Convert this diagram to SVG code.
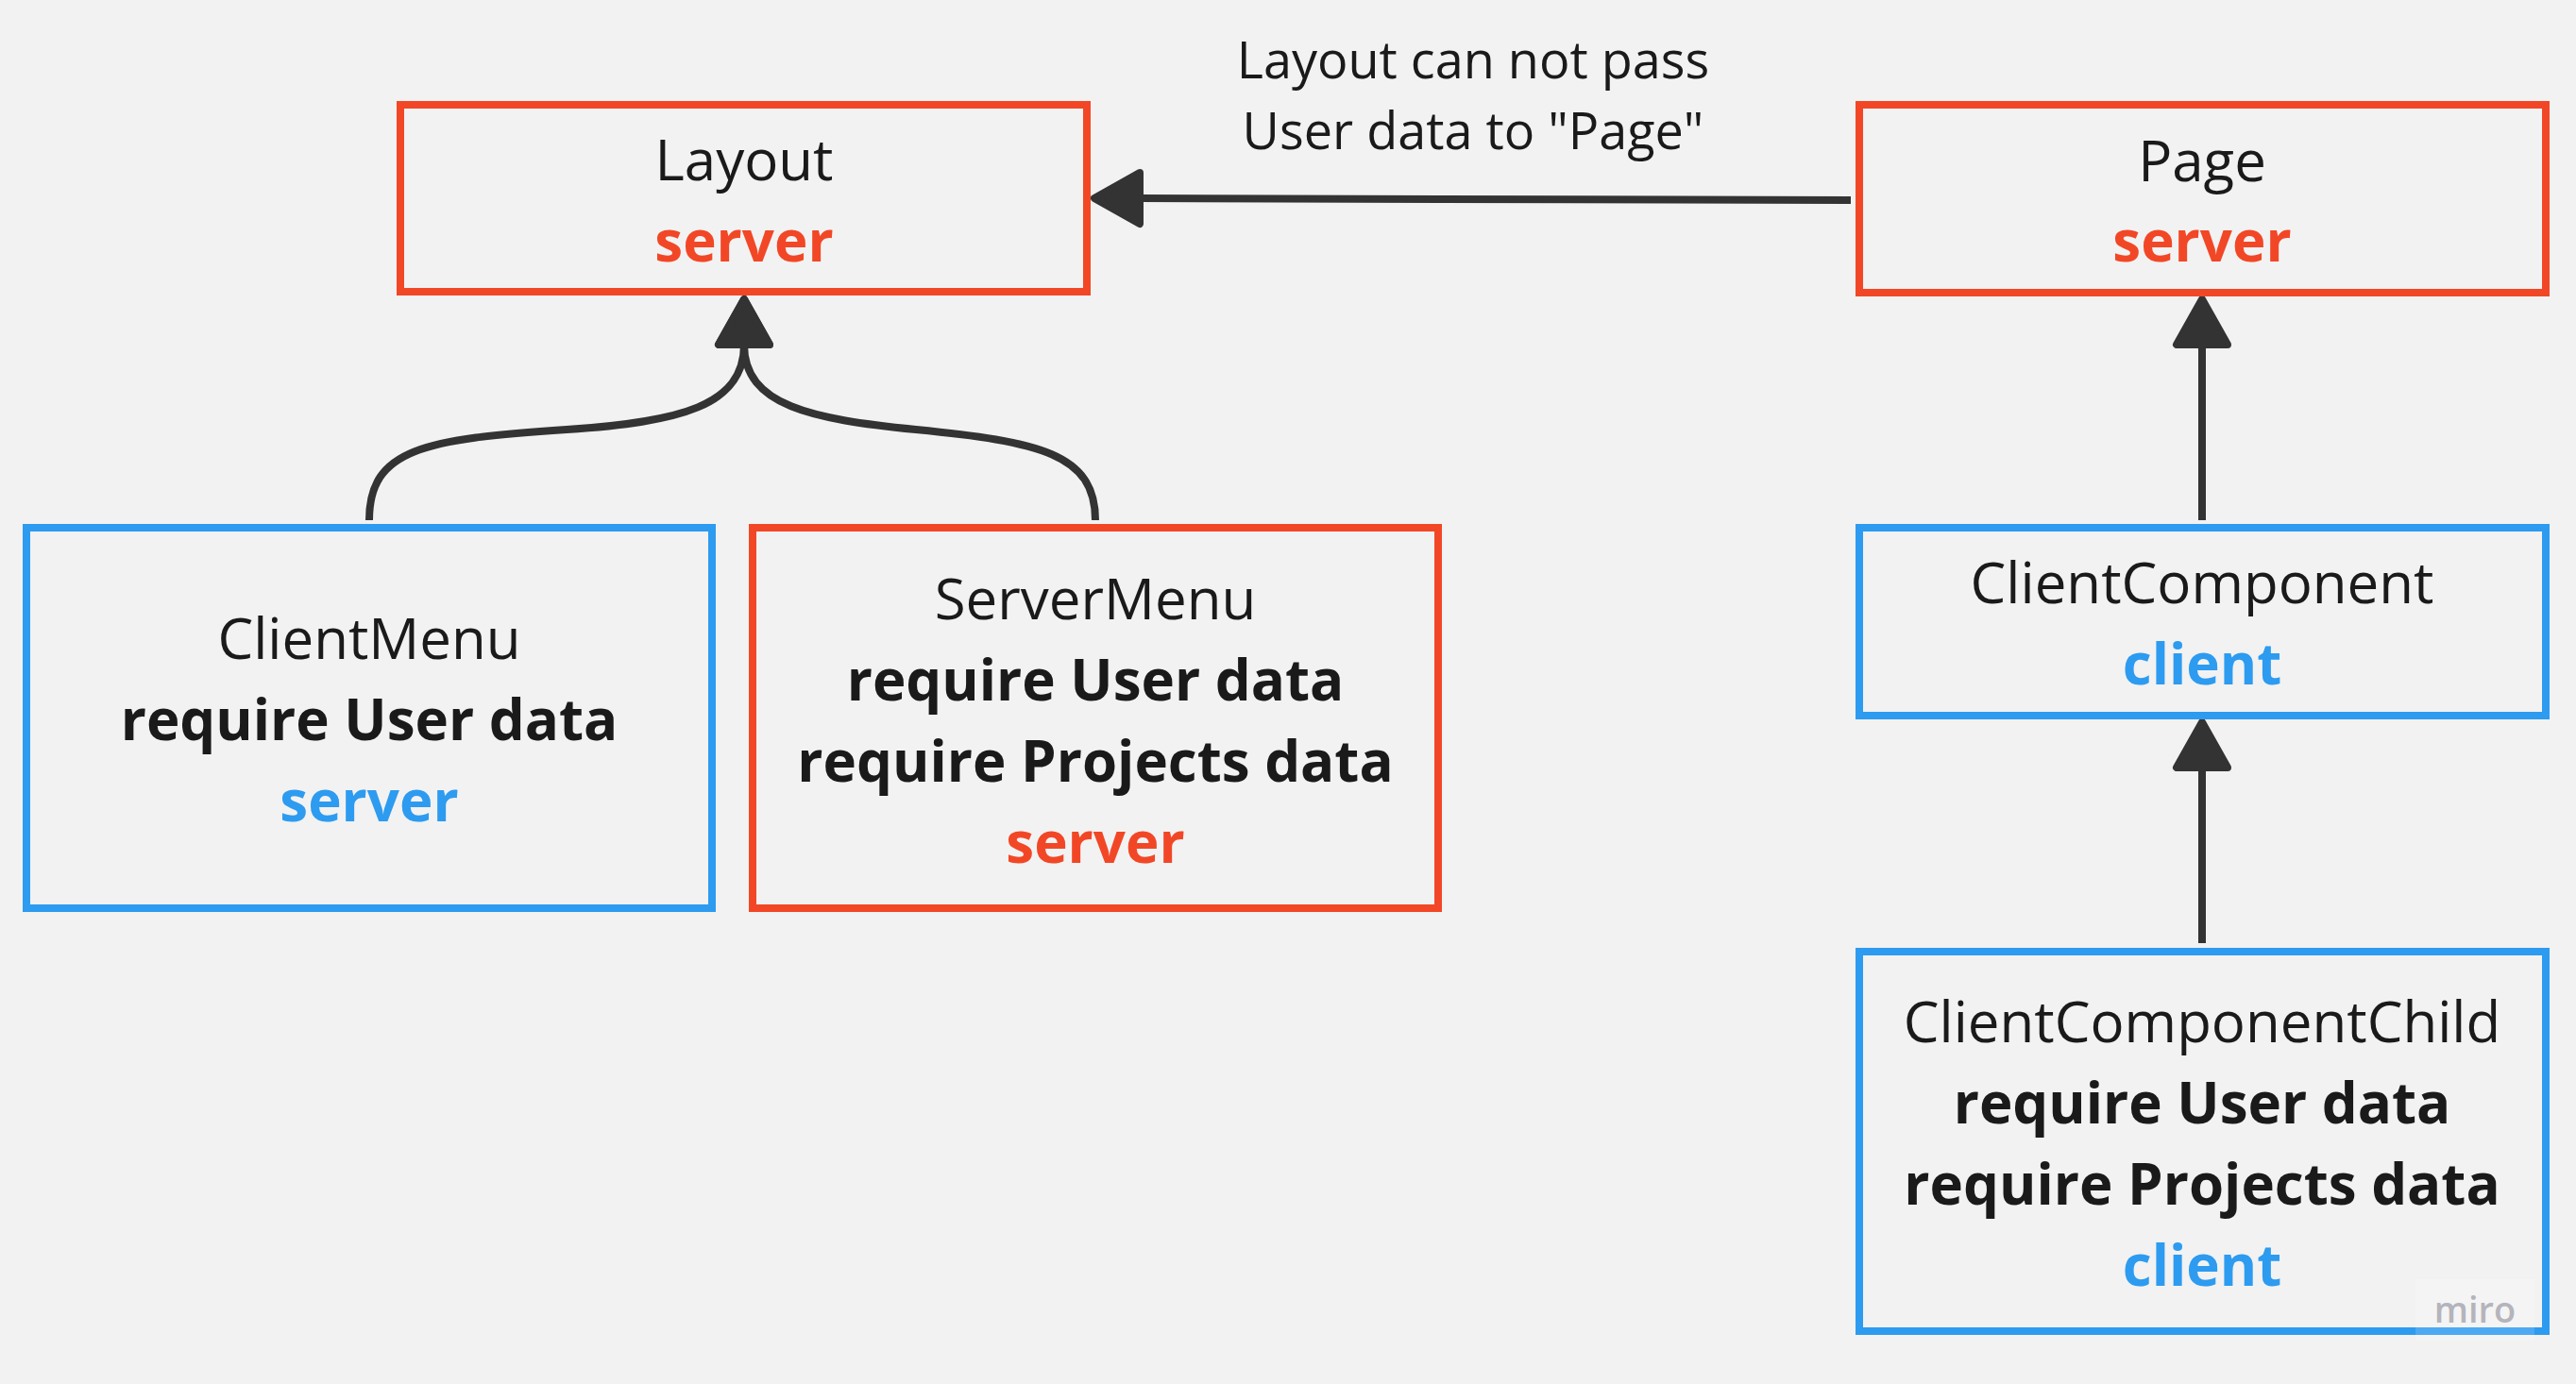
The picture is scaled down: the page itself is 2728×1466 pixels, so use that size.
<svg xmlns="http://www.w3.org/2000/svg" width="2728" height="1466" viewBox="0 0 2728 1466">
  <style>
    .box { fill: #f2f2f2; stroke-width: 8; }
    .red { stroke: #f24726; }
    .blue { stroke: #2d9bf0; }
    .t { font-family: "Open Sans", "Liberation Sans", sans-serif; font-size: 60px; text-anchor: middle; fill: #1a1a1a; }
    .b { font-weight: 700; }
    .cr { fill: #f24726; }
    .cb { fill: #2d9bf0; }
    .lbl { font-family: "Open Sans", "Liberation Sans", sans-serif; font-size: 54px; text-anchor: middle; fill: #1a1a1a; }
    .edge { fill: none; stroke: #333333; stroke-width: 8; }
  </style>
  <defs>
    <marker id="arrow" viewBox="-4 -36 60 72" refX="0" refY="0" markerWidth="60" markerHeight="72" markerUnits="userSpaceOnUse" orient="auto" overflow="visible">
      <path d="M48,0 L0,-27 L0,27 Z" fill="#333333" stroke="#333333" stroke-width="8" stroke-linejoin="round"/>
    </marker>
  </defs>
  <rect x="0" y="0" width="2728" height="1466" fill="#f2f2f2"/>

  <g id="connectors">
    <path class="edge" d="M1960,212 C1700,212 1500,210 1207,210" marker-end="url(#arrow)"/>
    <path class="edge" d="M391,551 C391,475 450,465 600,455 C720,447 788,430 788,365" marker-end="url(#arrow)"/>
    <path class="edge" d="M1160,551 C1160,480 1100,468 970,455 C860,444 788,430 788,365" marker-end="url(#arrow)"/>
    <path class="edge" d="M2332,551 L2332,365" marker-end="url(#arrow)"/>
    <path class="edge" d="M2332,999 L2332,813" marker-end="url(#arrow)"/>
  </g>

  <g id="edge-label">
    <text class="lbl" x="1560" y="83">Layout can not pass</text>
    <text class="lbl" x="1560" y="158">User data to "Page"</text>
  </g>

  <g id="layout">
    <rect class="box red" x="424" y="111" width="727" height="198"/>
    <text class="t" x="788" y="191">Layout</text>
    <text class="t b cr" x="788" y="277">server</text>
  </g>

  <g id="page">
    <rect class="box red" x="1969" y="111" width="727" height="199"/>
    <text class="t" x="2332" y="192">Page</text>
    <text class="t b cr" x="2332" y="277">server</text>
  </g>

  <g id="client-menu">
    <rect class="box blue" x="28" y="559" width="726" height="403"/>
    <text class="t" x="391" y="698">ClientMenu</text>
    <text class="t b" x="391" y="784">require User data</text>
    <text class="t b cb" x="391" y="870">server</text>
  </g>

  <g id="server-menu">
    <rect class="box red" x="797" y="559" width="726" height="403"/>
    <text class="t" x="1160" y="656">ServerMenu</text>
    <text class="t b" x="1160" y="742">require User data</text>
    <text class="t b" x="1160" y="828">require Projects data</text>
    <text class="t b cr" x="1160" y="914">server</text>
  </g>

  <g id="client-component">
    <rect class="box blue" x="1969" y="559" width="727" height="199"/>
    <text class="t" x="2332" y="639">ClientComponent</text>
    <text class="t b cb" x="2332" y="725">client</text>
  </g>

  <g id="client-component-child">
    <rect class="box blue" x="1969" y="1008" width="727" height="402"/>
    <text class="t" x="2332" y="1104">ClientComponentChild</text>
    <text class="t b" x="2332" y="1190">require User data</text>
    <text class="t b" x="2332" y="1276">require Projects data</text>
    <text class="t b cb" x="2332" y="1362">client</text>
  </g>

  <g id="watermark">
    <rect x="2558" y="1355" width="126" height="65" fill="#ffffff" fill-opacity="0.15"/>
    <text x="2621" y="1401" font-family="'Open Sans', 'Liberation Sans', sans-serif" font-size="38" font-weight="600" text-anchor="middle" fill="#b4b4bc">miro</text>
  </g>
</svg>
